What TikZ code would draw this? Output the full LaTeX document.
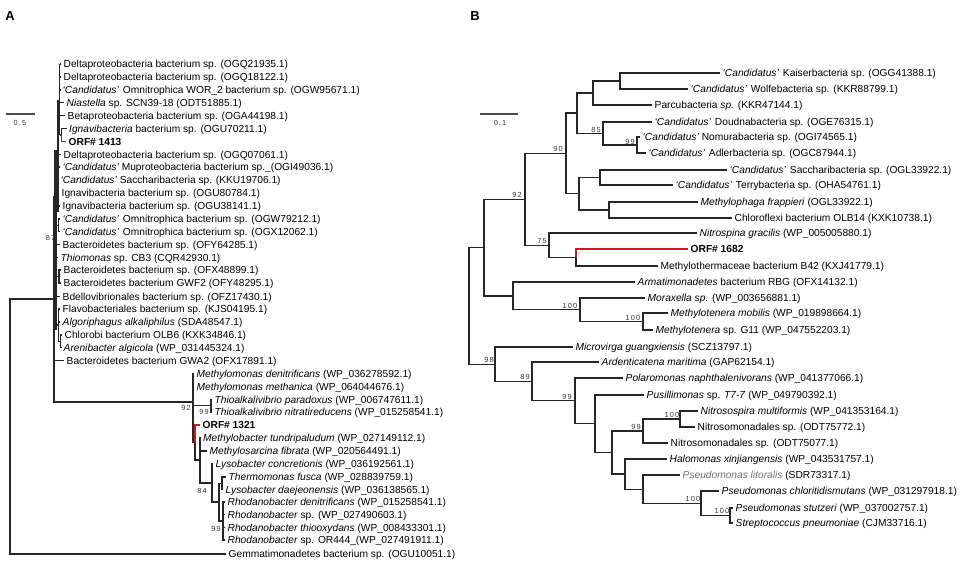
\documentclass[tikz,border=0pt]{standalone}
\usepackage{fontspec}
\setmainfont{Liberation Sans}
\newfontfamily\bootfam{Liberation Sans}[LetterSpace=15]
\definecolor{orfred}{RGB}{210,25,25}
\newcommand\tipfont{\fontsize{10.2}{12}\selectfont}
\newcommand\bootfont{\bootfam\fontsize{7.4}{8}\selectfont}
\newcommand\tp[4]{\node[leaf] (#1) at (#2,#3) {#4};}
\newcommand\cand{\textit{‘Candidatus’}}
\begin{document}
\begin{tikzpicture}[x=1pt,y=-1pt,
  leaf/.style={anchor=west,inner xsep=2.5pt,inner ysep=0pt,text height=7.3pt,text depth=0pt,font=\tipfont},
  brln/.style={line width=1.1pt,draw=black!85},
  redbr/.style={line width=1.3pt,draw=orfred},
  stemln/.style={draw=black!85},
  boot/.style={font=\bootfont,inner sep=0pt,text=black!80},
  panel/.style={font=\fontsize{13}{15}\selectfont\bfseries,inner sep=0pt},
  scl/.style={font=\bootfont,inner sep=0pt,text=black!80}]
\useasboundingbox (0,0) rectangle (961,565);

%================ PANEL A =================
\node[panel] (labA) at (10,16) {A};
\coordinate (sbA1) at (6,114); \coordinate (sbA2) at (35,114);
\draw[line width=1.2pt,draw=black!70] (sbA1) -- (sbA2);
\node[scl] (sbAt) at (20,122.5) {0.5};

\tp{a1}{61}{64}{Deltaproteobacteria bacterium sp. (OGQ21935.1)}
\tp{a2}{61}{77}{Deltaproteobacteria bacterium sp. (OGQ18122.1)}
\tp{a3}{60}{90}{\cand\hspace{4pt}Omnitrophica WOR\_2 bacterium sp. (OGW95671.1)}
\tp{a4}{64}{102.5}{\textit{Niastella} sp. SCN39-18 (ODT51885.1)}
\tp{a5}{65}{115.5}{Betaproteobacteria bacterium sp. (OGA44198.1)}
\tp{a6}{66.5}{128.5}{\textit{Ignavibacteria} bacterium sp. (OGU70211.1)}
\tp{a7}{66}{141.5}{\textbf{ORF\# 1413}}
\tp{a8}{61}{154.5}{Deltaproteobacteria bacterium sp. (OGQ07061.1)}
\tp{a9}{60}{167}{\cand\ Muproteobacteria bacterium sp.\_(OGI49036.1)}
\tp{a10}{58}{180}{\cand\ Saccharibacteria sp. (KKU19706.1)}
\tp{a11}{59}{193}{Ignavibacteria bacterium sp. (OGU80784.1)}
\tp{a12}{60}{206}{Ignavibacteria bacterium sp. (OGU38141.1)}
\tp{a13}{60}{219}{\cand\hspace{4pt}Omnitrophica bacterium sp. (OGW79212.1)}
\tp{a14}{60}{231.5}{\cand\hspace{4pt}Omnitrophica bacterium sp. (OGX12062.1)}
\tp{a15}{60}{244.5}{Bacteroidetes bacterium sp. (OFY64285.1)}
\tp{a16}{58}{257.5}{\textit{Thiomonas} sp. CB3 (CQR42930.1)}
\tp{a17}{61}{270}{Bacteroidetes bacterium sp. (OFX48899.1)}
\tp{a18}{61}{283}{Bacteroidetes bacterium GWF2 (OFY48295.1)}
\tp{a19}{60}{296.5}{Bdellovibrionales bacterium sp. (OFZ17430.1)}
\tp{a20}{60}{309}{Flavobacteriales bacterium sp. (KJS04195.1)}
\tp{a21}{60}{322}{\textit{Algoriphagus alkaliphilus} (SDA48547.1)}
\tp{a22}{62}{335}{Chlorobi bacterium OLB6 (KXK34846.1)}
\tp{a23}{61}{347.5}{\textit{Arenibacter algicola} (WP\_031445324.1)}
\tp{a24}{64}{360.5}{Bacteroidetes bacterium GWA2 (OFX17891.1)}
\tp{a25}{194}{374}{\textit{Methylomonas denitrificans} (WP\_036278592.1)}
\tp{a26}{194}{387}{\textit{Methylomonas methanica} (WP\_064044676.1)}
\tp{a27}{212}{399.5}{\textit{Thioalkalivibrio paradoxus} (WP\_006747611.1)}
\tp{a28}{212}{412}{\textit{Thioalkalivibrio nitratireducens} (WP\_015258541.1)}
\tp{a29}{200}{425}{\textbf{ORF\# 1321}}
\tp{a30}{200.5}{438}{\textit{Methylobacter tundripaludum} (WP\_027149112.1)}
\tp{a31}{207}{451}{\textit{Methylosarcina fibrata} (WP\_020564491.1)}
\tp{a32}{213}{463.5}{\textit{Lysobacter concretionis} (WP\_036192561.1)}
\tp{a33}{226}{477}{\textit{Thermomonas fusca} (WP\_028839759.1)}
\tp{a34}{223}{489.5}{\textit{Lysobacter daejeonensis} (WP\_036138565.1)}
\tp{a35}{225}{502}{\textit{Rhodanobacter denitrificans} (WP\_015258541.1)}
\tp{a36}{225}{514.5}{\textit{Rhodanobacter} sp. (WP\_027490603.1)}
\tp{a37}{225}{527.5}{\textit{Rhodanobacter thiooxydans} (WP\_008433301.1)}
\tp{a38}{225}{540}{\textit{Rhodanobacter} sp. OR444\_(WP\_027491911.1)}
\tp{a39}{226}{554}{Gemmatimonadetes bacterium sp. (OGU10051.1)}

% upper cluster stems
\coordinate (s1) at (59.5,64); \coordinate (s1b) at (59.5,135);
\coordinate (s2) at (57.5,100); \coordinate (s2b) at (57.5,212);
\coordinate (s3) at (55.5,150); \coordinate (s3b) at (55.5,330);
\coordinate (Mtop) at (54,196); \coordinate (M) at (54,299);
\draw[stemln,line width=1.8pt] (s1) -- (s1b);
\draw[stemln,line width=2pt] (s2) -- (s2b);
\draw[stemln,line width=2.2pt] (s3) -- (s3b);
\draw[stemln,line width=1.8pt] (Mtop) -- (M);
\foreach \t in {a1,a2,a3,a4,a5} \draw[brln] (\t.west -| s1) -- (\t.west);
\coordinate (r1) at (61.5,135);
\draw[brln] (s1b) -- (r1);
\draw[brln] (r1) |- (a6.west);
\draw[redbr] (r1) |- (a7.west);
\foreach \t in {a8,a9,a10,a11,a12} \draw[brln] (\t.west -| s2) -- (\t.west);
\coordinate (o1) at (58.5,225.25);
\draw[brln] (o1 -| s3) -- (o1);
\draw[brln] (o1) |- (a13.west);
\draw[brln] (o1) |- (a14.west);
\foreach \t in {a15,a16,a19} \draw[brln] (\t.west -| s3) -- (\t.west);
\coordinate (pb) at (59,276.5);
\draw[brln] (pb -| s3) -- (pb);
\draw[brln] (pb) |- (a17.west);
\draw[brln] (pb) |- (a18.west);
\coordinate (f1) at (58.5,325); \coordinate (f2) at (60.5,341.25);
\draw[brln] (f1 -| s3) -- (f1);
\draw[brln] (f1) |- (a20.west);
\draw[brln] (f1) |- (a21.west);
\draw[brln] (f1) |- (f2);
\draw[brln] (f2) |- (a22.west);
\draw[brln] (f2) |- (a23.west);
\draw[brln] (M) |- (a24.west);
\node[boot] (bt87) at (50.5,238) {87};

% root and lower clade
\coordinate (rA) at (10,299);
\draw[brln] (M) -- (rA) |- (a39.west);
\coordinate (P) at (193,402);
\coordinate (X) at (211,405.75);
\coordinate (Q) at (195,442.5);
\coordinate (R) at (200,460);
\coordinate (T) at (212,483);
\coordinate (U) at (219,502);
\coordinate (V) at (222,483.25);
\coordinate (W) at (223,521);
\draw[brln] (M) |- (P);
\draw[brln,line width=1.6pt] (P) |- (a25.west);
\draw[brln] (P) |- (a26.west);
\draw[brln] (P) |- (X);
\draw[brln,line width=1.6pt] (P) |- (Q);
\draw[brln] (X) |- (a27.west);
\draw[brln] (X) |- (a28.west);
\draw[redbr] (Q) |- (a29.west);
\draw[brln] (Q) |- (R);
\draw[brln] (R) |- (a30.west);
\draw[brln] (R) |- (a31.west);
\draw[brln] (R) |- (T);
\draw[brln] (T) |- (a32.west);
\draw[brln] (T) |- (U);
\draw[brln] (U) |- (V);
\draw[brln] (U) |- (W);
\draw[brln] (V) |- (a33.west);
\draw[brln] (V) |- (a34.west);
\foreach \t in {a35,a36,a37,a38} \draw[brln] (W) |- (\t.west);
\node[boot] (bt92a) at (186,408) {92};
\node[boot] (bt99a) at (204,412) {99};
\node[boot] (bt84a) at (202,491) {84};
\node[boot] (bt99b) at (216,528.5) {99};

%================ PANEL B =================
\node[panel] (labB) at (475,16) {B};
\coordinate (sbB1) at (480,114); \coordinate (sbB2) at (518,114);
\draw[line width=1.2pt,draw=black!70] (sbB1) -- (sbB2);
\node[scl] (sbBt) at (500,122.5) {0.1};

\tp{b1}{720}{73}{\cand\hspace{4pt}Kaiserbacteria sp. (OGG41388.1)}
\tp{b2}{688}{89}{\cand\hspace{4pt}Wolfebacteria sp. (KKR88799.1)}
\tp{b3}{652}{105}{Parcubacteria \textit{sp.} (KKR47144.1)}
\tp{b4}{652}{122}{\cand\hspace{4pt}Doudnabacteria sp. (OGE76315.1)}
\tp{b5}{640}{137}{\cand\ Nomurabacteria sp. (OGI74565.1)}
\tp{b6}{646}{153}{\cand\hspace{4pt}Adlerbacteria sp. (OGC87944.1)}
\tp{b7}{727}{170}{\cand\hspace{4pt}Saccharibacteria sp. (OGL33922.1)}
\tp{b8}{673}{185}{\cand\hspace{4pt}Terrybacteria sp. (OHA54761.1)}
\tp{b9}{698}{202}{\textit{Methylophaga frappieri} (OGL33922.1)}
\tp{b10}{732}{218}{Chloroflexi bacterium OLB14 (KXK10738.1)}
\tp{b11}{697}{233}{\textit{Nitrospina gracilis} (WP\_005005880.1)}
\tp{b12}{688}{249}{\textbf{ORF\# 1682}}
\tp{b13}{658}{266}{Methylothermaceae bacterium B42 (KXJ41779.1)}
\tp{b14}{635}{282}{\textit{Armatimonadetes} bacterium RBG (OFX14132.1)}
\tp{b15}{645}{298}{\textit{Moraxella sp.} (WP\_003656881.1)}
\tp{b16}{668}{313}{\textit{Methylotenera mobilis} (WP\_019898664.1)}
\tp{b17}{653}{330}{\textit{Methylotenera} sp. G11 (WP\_047552203.1)}
\tp{b18}{573}{347}{\textit{Microvirga guangxiensis} (SCZ13797.1)}
\tp{b19}{599}{362}{\textit{Ardenticatena maritima} (GAP62154.1)}
\tp{b20}{623}{378}{\textit{Polaromonas naphthalenivorans} (WP\_041377066.1)}
\tp{b21}{644}{395}{\textit{Pusillimonas} sp. \textit{T7-7} (WP\_049790392.1)}
\tp{b22}{698}{411}{\textit{Nitrosospira multiformis} (WP\_041353164.1)}
\tp{b23}{695}{427}{Nitrosomonadales sp. (ODT75772.1)}
\tp{b24}{668}{443}{Nitrosomonadales sp. (ODT75077.1)}
\tp{b25}{667}{459}{\textit{Halomonas xinjiangensis} (WP\_043531757.1)}
\tp{b26}{680}{475}{\textcolor{black!55}{\textit{Pseudomonas litoralis}} (SDR73317.1)}
\tp{b27}{719}{491}{\textit{Pseudomonas chloritidismutans} (WP\_031297918.1)}
\tp{b28}{733}{508}{\textit{Pseudomonas stutzeri} (WP\_037002757.1)}
\tp{b29}{733}{523}{\textit{Streptococcus pneumoniae} (CJM33716.1)}

\coordinate (K) at (620,81);
\coordinate (Pa) at (593,93);
\coordinate (D99) at (637,145);
\coordinate (D85) at (603,133.5);
\coordinate (N577) at (577,113);
\coordinate (ST) at (600,177.5);
\coordinate (MC) at (609,210);
\coordinate (N579) at (579,193.75);
\coordinate (N90) at (566,153.5);
\coordinate (OR) at (576,257.5);
\coordinate (N75) at (549,245.25);
\coordinate (N92) at (525,199.4);
\coordinate (MM) at (643,321.5);
\coordinate (NA) at (580,309.75);
\coordinate (AR) at (513,296);
\coordinate (N484) at (484,247.7);
\coordinate (NS) at (680,419);
\coordinate (N643) at (643,431);
\coordinate (PC) at (730,515.5);
\coordinate (PCl) at (701,503.25);
\coordinate (PL) at (643,489.1);
\coordinate (HL) at (625,474);
\coordinate (N612) at (612,452.5);
\coordinate (N595) at (595,423.75);
\coordinate (N575) at (575,400.9);
\coordinate (N532) at (532,381.5);
\coordinate (N98) at (495,364.2);
\coordinate (RB) at (469,306);

\draw[brln] (K) |- (b1.west);  \draw[brln] (K) |- (b2.west);
\draw[brln] (Pa) |- (K);       \draw[brln] (Pa) |- (b3.west);
\draw[brln] (D99) |- (b5.west); \draw[brln] (D99) |- (b6.west);
\draw[brln] (D85) |- (b4.west); \draw[brln] (D85) |- (D99);
\draw[brln] (N577) |- (Pa);    \draw[brln] (N577) |- (D85);
\draw[brln] (ST) |- (b7.west); \draw[brln] (ST) |- (b8.west);
\draw[brln] (MC) |- (b9.west); \draw[brln] (MC) |- (b10.west);
\draw[brln] (N579) |- (ST);    \draw[brln] (N579) |- (MC);
\draw[brln] (N90) |- (N577);   \draw[brln] (N90) |- (N579);
\draw[redbr] (OR) |- (b12.west); \draw[brln] (OR) |- (b13.west);
\draw[brln] (N75) |- (b11.west); \draw[brln] (N75) |- (OR);
\draw[brln] (N92) |- (N90);    \draw[brln] (N92) |- (N75);
\draw[brln] (MM) |- (b16.west); \draw[brln] (MM) |- (b17.west);
\draw[brln] (NA) |- (b15.west); \draw[brln] (NA) |- (MM);
\draw[brln] (AR) |- (b14.west); \draw[brln] (AR) |- (NA);
\draw[brln] (N484) |- (N92);   \draw[brln] (N484) |- (AR);
\draw[brln] (NS) |- (b22.west); \draw[brln] (NS) |- (b23.west);
\draw[brln] (N643) |- (NS);    \draw[brln] (N643) |- (b24.west);
\draw[brln] (PC) |- (b28.west); \draw[brln] (PC) |- (b29.west);
\draw[brln] (PCl) |- (b27.west); \draw[brln] (PCl) |- (PC);
\draw[brln] (PL) |- (b26.west); \draw[brln] (PL) |- (PCl);
\draw[brln] (HL) |- (b25.west); \draw[brln] (HL) |- (PL);
\draw[brln] (N612) |- (N643);  \draw[brln] (N612) |- (HL);
\draw[brln] (N595) |- (b21.west); \draw[brln] (N595) |- (N612);
\draw[brln] (N575) |- (b20.west); \draw[brln] (N575) |- (N595);
\draw[brln] (N532) |- (b19.west); \draw[brln] (N532) |- (N575);
\draw[brln] (N98) |- (b18.west); \draw[brln] (N98) |- (N532);
\draw[brln] (RB) |- (N484);    \draw[brln] (RB) |- (N98);

\node[boot] (c85) at (596,129.5) {85};
\node[boot] (c99a) at (630,141.5) {99};
\node[boot] (c90) at (558,149) {90};
\node[boot] (c92) at (517,195) {92};
\node[boot] (c75) at (542,241) {75};
\node[boot] (c100a) at (570,305.5) {100};
\node[boot] (c100b) at (633,317.5) {100};
\node[boot] (c98) at (489,359.5) {98};
\node[boot] (c89) at (525,377) {89};
\node[boot] (c99b) at (567,396.5) {99};
\node[boot] (c100c) at (672,414.5) {100};
\node[boot] (c99c) at (636,426.5) {99};
\node[boot] (c100d) at (693,498.5) {100};
\node[boot] (c100e) at (722,511) {100};
\end{tikzpicture}
\end{document}
